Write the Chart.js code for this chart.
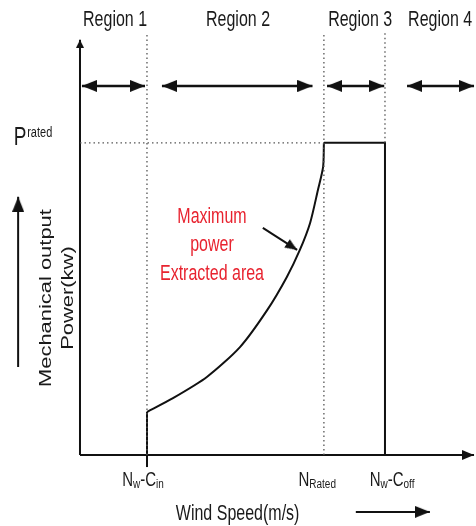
<!DOCTYPE html>
<html lang="en">
<head>
    <meta charset="UTF-8">
    <title>Wind turbine power regions</title>
    <script src="https://cdn.jsdelivr.net/npm/chart.js@4.4.0/dist/chart.umd.min.js"></script>
    <style>
        body { margin: 0; background: #fff; }
        canvas { display: block; }
    </style>
</head>
<body>
    <canvas id="powerChart" width="476" height="526"></canvas>

    <script>
        // wind speed positions (arbitrary units, axis runs 0..100)
        const cutIn = 17;
        const rated = 61.9;
        const cutOff = 77.4;
        const pRated = 75.2;
        const lineTop = 101.7;

        // power curve (region 2)
        const curveX = [17, 23.6, 32.2, 40.6, 47.5, 52.5, 55.8, 58.4, 60.4, 61.7, 61.9];
        const curveP = [10.4, 13.7, 18.8, 26.0, 34.9, 42.9, 49.4, 55.9, 63.9, 69.4, 75.2];

        // region arrows
        const regionNames = ['Region 1', 'Region 2', 'Region 3', 'Region 4'];
        const regionLabelX = [8.9, 40.1, 71.1, 91.4];
        const regionFrom = [0.5, 20.8, 62.7, 83];
        const regionTo = [16.5, 59, 77.2, 100];
        const regionArrowY = 88.9;

        // bottom labels
        const tickX = [16.0, 60.2, 79.2];
        const tickParts = [
            [['N', 0], ['w', 1], ['-C', 0], ['in', 1]],
            [['N', 0], ['Rated', 1]],
            [['N', 0], ['w', 1], ['-C', 0], ['off', 1]]
        ];
        const noteLines = ['Maximum', 'power', 'Extracted area'];
        const noteY = [57.3, 50.6, 43.6];

        const FONT = '"Liberation Sans", Arial, sans-serif';
        const STRETCH = 1.37;

        function makeHead(w, l) {
            const c = document.createElement('canvas');
            c.width = w;
            c.height = l * 2;
            const g = c.getContext('2d');
            g.fillStyle = '#111';
            g.beginPath();
            g.moveTo(w / 2, l);
            g.lineTo(w, l * 2);
            g.lineTo(0, l * 2);
            g.closePath();
            g.fill();
            return c;
        }
        const bigHead = makeHead(12, 15);
        const smallHead = makeHead(8, 8);
        const midHead = makeHead(10, 12);

        function seg(x0, y0, x1, y1) {
            return [{x: x0, y: y0}, {x: x1, y: y1}];
        }

        function solid(data, width) {
            return {data: data, showLine: true, borderColor: '#111', borderWidth: width || 2,
                    pointRadius: 0, tension: 0};
        }
        function dotted(data) {
            return {data: data, showLine: true, borderColor: '#555', borderWidth: 1.3,
                    borderDash: [1.5, 3], pointRadius: 0};
        }
        function arrow(data, heads, rotations, width) {
            return {data: data, showLine: true, borderColor: '#111', borderWidth: width || 2.5,
                    pointStyle: heads, rotation: rotations, pointRadius: 6,
                    borderCapStyle: 'butt'};
        }

        const datasets = [
            dotted(seg(cutIn, 0, cutIn, lineTop)),
            dotted(seg(rated, 0, rated, lineTop)),
            dotted(seg(cutOff, pRated, cutOff, lineTop)),
            dotted(seg(0, pRated, rated, pRated)),
            // axes
            arrow(seg(0, 0, 0, 100), [false, smallHead], [0, 0], 2),
            arrow(seg(0, 0, 100, 0), [false, midHead], [0, 90], 2),
            // power curve
            solid([{x: cutIn, y: -2.9}, {x: cutIn, y: curveP[0]}]),
            Object.assign(solid(curveX.map((x, i) => ({x: x, y: curveP[i]}))), {tension: 0.25}),
            solid([{x: rated, y: pRated}, {x: cutOff, y: pRated}, {x: cutOff, y: 0}])
        ];

        regionFrom.forEach((x0, i) => {
            datasets.push(arrow(seg(x0, regionArrowY, regionTo[i], regionArrowY),
                [bigHead, bigHead], [270, 90]));
        });
        // note arrow, wind speed arrow, power arrow
        datasets.push(arrow(seg(46.4, 54.7, 55.1, 49.4), [false, midHead], [0, 123], 2));
        datasets.push(arrow(seg(70, -13.7, 88.8, -13.7), [false, bigHead], [0, 90], 2));
        datasets.push(arrow(seg(-15.7, 21.2, -15.7, 62.2), [false, bigHead], [0, 0], 2));

        function text(ctx, str, px, py, size, color, align, rotate) {
            ctx.save();
            ctx.translate(px, py);
            ctx.scale(1, STRETCH);
            if (rotate) ctx.rotate(-Math.PI / 2);
            ctx.font = size + 'px ' + FONT;
            ctx.fillStyle = color;
            ctx.textAlign = align;
            ctx.textBaseline = 'middle';
            ctx.fillText(str, 0, 0);
            ctx.restore();
        }

        const labelPlugin = {
            id: 'labels',
            afterDatasetsDraw(chart) {
                const ctx = chart.ctx;
                const xs = chart.scales.x, ys = chart.scales.y;
                const X = v => xs.getPixelForValue(v);
                const Y = v => ys.getPixelForValue(v);

                regionNames.forEach((n, i) => text(ctx, n, X(regionLabelX[i]), Y(104.8), 16, '#1a1a1a', 'center'));

                // P rated
                text(ctx, 'P', X(-15.2), Y(76.4), 19, '#1a1a1a', 'center');
                text(ctx, 'rated', X(-13.4), Y(77.6), 11, '#1a1a1a', 'left');

                // y title
                text(ctx, 'Mechanical output', X(-8.4), Y(37.8), 16, '#1a1a1a', 'center', true);
                text(ctx, 'Power(kw)', X(-3.0), Y(37.8), 16, '#1a1a1a', 'center', true);

                // red note
                noteLines.forEach((t, i) => text(ctx, t, X(33.5), Y(noteY[i]), 16, '#e8232f', 'center'));

                // wind speed ticks with subscripts
                tickParts.forEach((parts, i) => {
                    let total = 0;
                    const widths = parts.map(([t, sub]) => {
                        ctx.font = (sub ? 10 : 15) + 'px ' + FONT;
                        const w = ctx.measureText(t).width;
                        total += w;
                        return w;
                    });
                    let px = X(tickX[i]) - total / 2;
                    const py = Y(-6.0);
                    parts.forEach(([t, sub], k) => {
                        text(ctx, t, px, py + (sub ? 4 : 0), sub ? 10 : 15, '#1a1a1a', 'left');
                        px += widths[k];
                    });
                });

                text(ctx, 'Wind Speed(m/s)', X(40.0), Y(-14.2), 16, '#1a1a1a', 'center');
            }
        };

        new Chart(document.getElementById('powerChart'), {
            type: 'scatter',
            data: {datasets: datasets},
            options: {
                responsive: false,
                animation: false,
                devicePixelRatio: 1,
                layout: {padding: 0, autoPadding: false},
                scales: {
                    x: {type: 'linear', min: -20.3, max: 100.5, display: false},
                    y: {type: 'linear', min: -17.1, max: 109.6, display: false}
                },
                plugins: {legend: {display: false}, tooltip: {enabled: false}}
            },
            plugins: [labelPlugin]
        });
    </script>
</body>
</html>
